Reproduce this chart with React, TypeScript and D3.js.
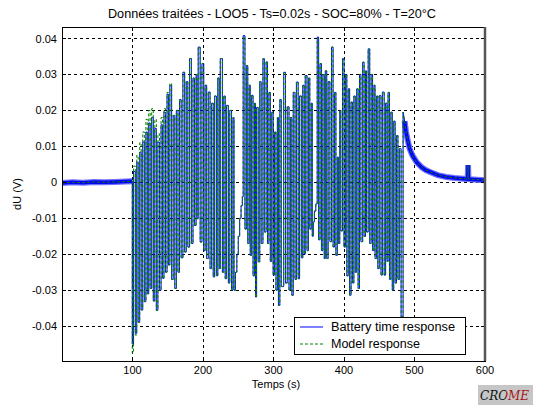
import React, { useMemo } from "react";
import * as d3 from "d3";

const title = "Données traitées - LOO5 - Ts=0.02s - SOC=80% - T=20°C";
const xLabel = "Temps (s)";
const yLabel = "dU (V)";
const xTicks = [100, 200, 300, 400, 500, 600];
const yTicks = [0.04, 0.03, 0.02, 0.01, 0, -0.01, -0.02, -0.03, -0.04];
const yTickLabels = ["0.04", "0.03", "0.02", "0.01", "0", "-0.01", "-0.02", "-0.03", "-0.04"];
const legendLabels = ["Battery time response", "Model response"];
const logoText = "CROME";

// rest period before the pulses
const baselineTimes = [0.02, 15, 30, 45, 60, 75, 90, 99.7];
const baselineValues = [-0.0002, 0.0, -0.0001, 0.0001, 0.0, 0.0001, 0.0002, 0.0003];

// pulse train: time of each switch and the level reached there
const switchTimes = [
  99.7, 101.5, 104.0, 106.0, 108.0, 110.2, 112.3, 114.5, 116.8, 119.0,
  121.0, 123.0, 125.0, 127.2, 129.5, 131.6, 133.8, 136.0, 138.3, 140.5,
  142.6, 144.6, 146.8, 149.0, 151.0, 153.0, 155.5, 157.7, 160.0, 162.2,
  164.5, 166.7, 169.0, 171.5, 174.0, 176.2, 178.5, 181.0, 183.5, 185.8,
  188.0, 190.2, 191.5, 193.2, 196.0, 198.5, 201.0, 203.0, 205.2, 207.5,
  210.0, 212.2, 214.5, 216.5, 219.0, 221.0, 223.0, 224.5, 227.5, 229.5,
  231.5, 233.5, 236.0, 238.0, 240.5, 242.5, 244.0, 246.0, 248.0, 250.0,
  252.0, 254.0, 255.8, 257.0, 259.5, 261.5, 263.5, 265.5, 267.0, 269.0,
  271.0, 273.0, 274.5, 276.0, 278.3, 280.5, 282.5, 285.0, 287.0, 289.5,
  291.5, 293.5, 295.5, 297.5, 299.5, 301.5, 303.5, 305.5, 307.0, 309.0,
  311.0, 314.5, 317.0, 319.5, 322.0, 324.0, 326.0, 328.0, 330.5, 332.5,
  335.0, 337.0, 339.5, 341.5, 343.5, 345.0, 347.5, 349.5, 351.5, 353.5,
  355.0, 356.5, 358.0, 360.0, 362.0, 364.0, 366.0, 368.0, 370.0, 372.0,
  373.5, 375.5, 377.5, 380.0, 382.3, 384.5, 386.5, 388.5, 390.5, 392.0,
  394.0, 395.5, 397.9, 400.0, 402.0, 404.0, 406.0, 408.0, 410.0, 412.0,
  414.0, 416.0, 418.0, 420.0, 422.0, 424.0, 426.5, 428.5, 430.5, 432.0,
  434.3, 436.5, 438.5, 440.5, 442.5, 444.0, 446.0, 448.0, 450.0, 452.5,
  454.5, 457.0, 459.0, 461.0, 462.5, 464.5, 466.5, 468.5, 470.5, 472.5,
  474.5, 476.5, 478.5, 481.0, 483.8,
];

const batteryLevels = [
  -0.045, 0.003, -0.042, 0.0056, -0.0388, 0.0084, -0.0355, 0.0112, -0.0332, 0.014,
  -0.031, 0.0165, -0.0295, 0.0181, -0.033, 0.015, -0.0356, 0.0112, -0.03, 0.016,
  -0.0267, 0.0195, -0.025, 0.0245, -0.023, 0.027, -0.027, 0.0186, -0.0295, 0.02,
  -0.025, 0.023, -0.021, 0.0306, -0.0194, 0.028, -0.018, 0.0344, -0.017, 0.029,
  -0.012, 0.03, -0.0101, 0.0376, -0.0166, 0.033, -0.019, 0.027, -0.0212, 0.0251,
  -0.024, 0.022, -0.0263, 0.024, -0.026, 0.029, -0.024, 0.0344, -0.025, 0.024,
  -0.0268, 0.0214, -0.028, 0.02, -0.03, 0.018, -0.03, -0.025, -0.02, -0.015,
  -0.01, -0.0065, -0.004, 0.0408, -0.013, 0.0325, -0.017, 0.027, -0.0203, 0.0242,
  -0.026, 0.022, -0.0319, 0.0208, -0.0221, 0.028, -0.017, 0.0344, -0.0138, 0.0335,
  -0.017, 0.025, -0.022, 0.0195, -0.0258, 0.014, -0.03, 0.018, -0.0342, 0.023,
  -0.029, 0.0306, -0.028, 0.021, -0.03, 0.018, -0.0314, 0.025, -0.027, 0.0279,
  -0.0268, 0.024, -0.021, 0.027, -0.02, 0.0297, -0.019, 0.029, -0.013, 0.022,
  -0.015, -0.011, -0.008, -0.006, 0.0404, -0.016, 0.033, -0.019, 0.03, -0.0212,
  0.031, -0.0212, 0.028, -0.0165, 0.0376, -0.018, 0.025, -0.0203, 0.007, -0.017,
  0.02, -0.0135, 0.0344, -0.018, 0.03, -0.026, 0.026, -0.0314, 0.0223, -0.028,
  0.024, -0.025, 0.026, -0.0295, 0.03, -0.0165, 0.0334, -0.015, 0.031, -0.0138,
  0.0371, -0.017, 0.03, -0.019, 0.027, -0.0212, 0.024, -0.024, 0.0241, -0.0258,
  0.0251, -0.0258, 0.022, -0.022, 0.025, -0.027, 0.0195, -0.03, 0.017, -0.028,
  0.013, -0.027, 0.0094, -0.0374, 0.0195,
];

const modelLevels = [
  -0.0475, 0.0045, -0.0425, 0.0075, -0.039, 0.011, -0.0355, 0.014, -0.0332, 0.0175,
  -0.031, 0.02, -0.0295, 0.0205, -0.033, 0.0175, -0.0356, 0.0135, -0.03, 0.018,
  -0.0267, 0.0205, -0.025, 0.025, -0.023, 0.0275, -0.027, 0.0186, -0.0295, 0.02,
  -0.025, 0.023, -0.021, 0.0306, -0.0194, 0.028, -0.018, 0.0344, -0.017, 0.029,
  -0.012, 0.03, -0.0101, 0.0376, -0.0166, 0.033, -0.019, 0.027, -0.0212, 0.0251,
  -0.024, 0.022, -0.0263, 0.024, -0.026, 0.029, -0.024, 0.0344, -0.025, 0.024,
  -0.0268, 0.0214, -0.028, 0.02, -0.03, 0.018, -0.03, -0.025, -0.02, -0.015,
  -0.01, -0.0065, -0.004, 0.0405, -0.013, 0.0325, -0.017, 0.027, -0.0203, 0.0242,
  -0.026, 0.022, -0.0319, 0.0208, -0.0221, 0.028, -0.017, 0.0344, -0.0138, 0.0335,
  -0.017, 0.025, -0.022, 0.0195, -0.0258, 0.014, -0.03, 0.018, -0.0342, 0.023,
  -0.029, 0.0306, -0.028, 0.021, -0.03, 0.018, -0.0314, 0.025, -0.027, 0.0279,
  -0.0268, 0.024, -0.021, 0.027, -0.02, 0.0297, -0.019, 0.029, -0.013, 0.022,
  -0.015, -0.011, -0.008, -0.006, 0.04, -0.016, 0.033, -0.019, 0.03, -0.0212,
  0.031, -0.0212, 0.028, -0.0165, 0.0376, -0.018, 0.025, -0.0203, 0.007, -0.017,
  0.02, -0.0135, 0.0344, -0.018, 0.03, -0.026, 0.026, -0.0314, 0.0223, -0.028,
  0.024, -0.025, 0.026, -0.0295, 0.03, -0.0165, 0.0334, -0.015, 0.031, -0.0138,
  0.0371, -0.017, 0.03, -0.019, 0.027, -0.0212, 0.024, -0.024, 0.0241, -0.0258,
  0.0251, -0.0258, 0.022, -0.022, 0.025, -0.027, 0.0195, -0.03, 0.017, -0.028,
  0.013, -0.027, 0.0094, -0.0378, 0.0195,
];

// relaxation after the last pulse
const tailTimes = [483.8, 486, 488, 490, 493, 497, 503, 510, 516, 522, 533, 545, 557, 569, 575.5, 576, 576.5, 583, 600];
const tailValues = [0.0195, 0.017, 0.014, 0.012, 0.0094, 0.0075, 0.0056, 0.0042, 0.0034, 0.0029, 0.002, 0.0015, 0.0012, 0.001, 0.0009, 0.0048, 0.0009, 0.0008, 0.0006];

const W = 533;
const H = 405;
const M = { left: 62, right: 485, top: 27, bottom: 361 };
const FONT = "'Liberation Sans', Arial, Helvetica, sans-serif";

type Pt = [number, number];

export default function App() {
  const x = d3.scaleLinear().domain([0, 600]).range([M.left, M.right]);
  const y = d3.scaleLinear().domain([-0.0497, 0.0432]).range([M.bottom, M.top]);

  const paths = useMemo(() => {
    const line = d3
      .line<Pt>()
      .x((d) => x(d[0]))
      .y((d) => y(d[1]));
    const step = d3
      .line<Pt>()
      .x((d) => x(d[0]))
      .y((d) => y(d[1]))
      .curve(d3.curveStepAfter);
    const base: Pt[] = baselineTimes.map((t, i) => [t, baselineValues[i]]);
    const tail: Pt[] = tailTimes.map((t, i) => [t, tailValues[i]]);
    const pulses = (levels: number[]): Pt[] => switchTimes.map((t, i) => [t, levels[i]]);
    const series = (levels: number[]) => {
      const lastBase = base[base.length - 1];
      return (
        (line(base) || "") +
        (step([lastBase, ...pulses(levels)]) || "").replace(/^M/, "L") +
        (line(tail) || "").replace(/^M/, "L")
      );
    };
    return {
      base: line(base) || "",
      tail: line(tail.slice(1)) || "",
      battery: series(batteryLevels),
      model: series(modelLevels),
    };
  }, []);

  const lg = { x: 294, y: 317, w: 171, h: 37 };

  return (
    <svg
      width={W}
      height={H}
      viewBox={`0 0 ${W} ${H}`}
      style={{ position: "absolute", left: 0, top: 0, background: "#fff" }}
      fontFamily={FONT}
    >
      <rect x={0} y={0} width={W} height={H} fill="#fff" />
      <defs>
        <clipPath id="plot">
          <rect x={M.left} y={M.top} width={M.right - M.left} height={M.bottom - M.top} />
        </clipPath>
        <linearGradient id="logoFill" gradientUnits="userSpaceOnUse" x1={480} x2={528} y1={0} y2={0}>
          <stop offset="0.55" stopColor="#111" />
          <stop offset="0.55" stopColor="#a31515" />
        </linearGradient>
      </defs>

      {/* grid */}
      <g stroke="#000" strokeWidth={1} strokeDasharray="3 3" shapeRendering="crispEdges">
        {xTicks.map((t) => (
          <line key={`gx${t}`} x1={x(t)} x2={x(t)} y1={M.top} y2={M.bottom} />
        ))}
        {yTicks.map((t) => (
          <line key={`gy${t}`} x1={M.left} x2={M.right} y1={y(t)} y2={y(t)} />
        ))}
      </g>

      {/* data */}
      <g clipPath="url(#plot)" fill="none">
        <path d={paths.base} stroke="#7070ff" strokeWidth={6} />
        <path d={paths.base} stroke="#0000ff" strokeWidth={3.5} />
        <path d={paths.tail} stroke="#7070ff" strokeWidth={6} />
        <path d={paths.tail} stroke="#0000ff" strokeWidth={3.5} />
        <path d={paths.battery} stroke="#0000ff" strokeWidth={1} />
        <path d={paths.model} stroke="#008000" strokeWidth={1} strokeDasharray="3 2" />
      </g>

      {/* ticks */}
      <g stroke="#000" strokeWidth={1} shapeRendering="crispEdges">
        {xTicks.map((t) => (
          <g key={`tx${t}`}>
            <line x1={x(t)} x2={x(t)} y1={M.bottom} y2={M.bottom - 4} />
            <line x1={x(t)} x2={x(t)} y1={M.top} y2={M.top + 4} />
          </g>
        ))}
        {yTicks.map((t) => (
          <g key={`ty${t}`}>
            <line x1={M.left} x2={M.left + 4} y1={y(t)} y2={y(t)} />
            <line x1={M.right} x2={M.right - 4} y1={y(t)} y2={y(t)} />
          </g>
        ))}
      </g>

      {/* axes box */}
      <rect
        x={M.left}
        y={M.top}
        width={M.right - M.left}
        height={M.bottom - M.top}
        fill="none"
        stroke="#000"
        strokeWidth={1}
        shapeRendering="crispEdges"
      />
      <line x1={M.right} x2={M.right} y1={M.top} y2={M.bottom} stroke="#555" strokeWidth={2.5} />

      {/* tick labels */}
      <g fontSize={11} fill="#000">
        {xTicks.map((t) => (
          <text key={`lx${t}`} x={x(t)} y={374} textAnchor="middle">
            {t}
          </text>
        ))}
        {yTicks.map((t, i) => (
          <text key={`ly${t}`} x={57} y={y(t) + 4} textAnchor="end">
            {yTickLabels[i]}
          </text>
        ))}
      </g>

      <text x={272} y={18} textAnchor="middle" fontSize={12} textLength={328} lengthAdjust="spacingAndGlyphs">
        {title}
      </text>
      <text x={276} y={388} textAnchor="middle" fontSize={11}>
        {xLabel}
      </text>
      <text
        transform={`translate(21,${(M.top + M.bottom) / 2}) rotate(-90)`}
        textAnchor="middle"
        fontSize={11}
      >
        {yLabel}
      </text>

      {/* legend */}
      <g>
        <rect x={lg.x} y={lg.y} width={lg.w} height={lg.h} fill="#fff" stroke="#000" shapeRendering="crispEdges" />
        <line x1={lg.x + 6} x2={lg.x + 29} y1={lg.y + 10} y2={lg.y + 10} stroke="#0000ff" />
        <line x1={lg.x + 6} x2={lg.x + 29} y1={lg.y + 27} y2={lg.y + 27} stroke="#008000" strokeDasharray="3 2" />
        <text x={lg.x + 37} y={lg.y + 14} fontSize={12} textLength={124} lengthAdjust="spacingAndGlyphs">
          {legendLabels[0]}
        </text>
        <text x={lg.x + 37} y={lg.y + 31} fontSize={12} textLength={89} lengthAdjust="spacingAndGlyphs">
          {legendLabels[1]}
        </text>
      </g>

      {/* logo */}
      <rect x={478} y={385} width={55} height={20} fill="#c6c6c6" />
      <text
        x={480}
        y={400}
        fontSize={12}
        fontStyle="italic"
        fontFamily="'DejaVu Serif', serif"
        fill="url(#logoFill)"
      >
        {logoText}
      </text>
    </svg>
  );
}
